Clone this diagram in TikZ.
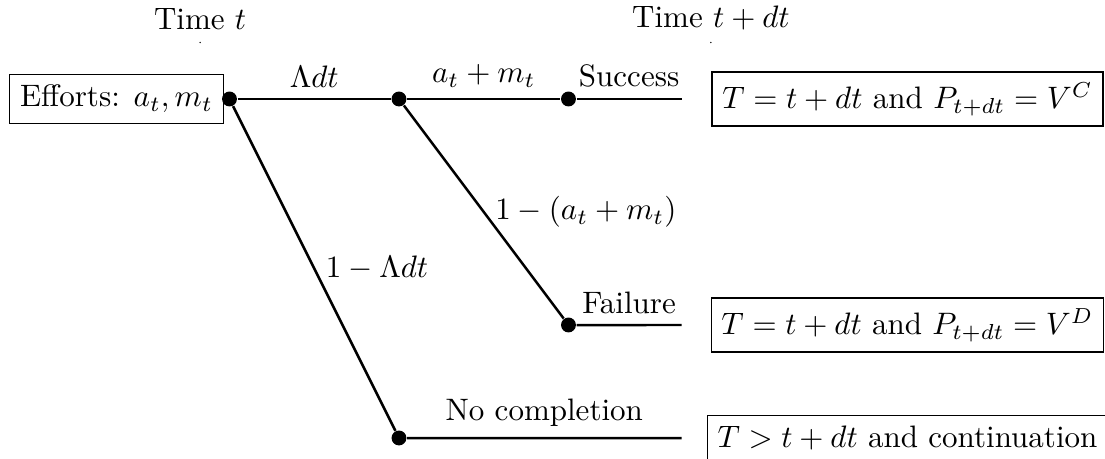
\documentclass[tikz,border=0pt]{standalone}
\usepackage{amsmath}
\usepackage{tikz}
\usetikzlibrary{positioning, calc}
\tikzset{
	branch/.style ={thick},
	dot/.style    ={circle, fill=black, inner sep=0pt, minimum size=4.8pt},
	outcome/.style={rectangle, draw=black, align=center},
	tick/.style   ={circle, fill=black, inner sep=0pt, minimum size=0.5pt},
}

\begin{document}
\begin{tikzpicture}[scale=1.28]
	\useasboundingbox (-2.031,-3.186) rectangle (7.748,0.876);
	% time stamps
	\node[tick] (t0) at (-0.26,0.5) {};
	\node[tick] (t1) at (4.26,0.5) {};
	\node[above=0pt of t0] (lbl0) {Time $t$};
	\node[above=0pt of t1] (lbl1) {Time $t+dt$};
	% tree
	\node[outcome] (effort) at (-1,0) {Efforts: $a_t, m_t$};
	\node[dot] (root) at (0,0) {};
	\node[dot] (mid) at (1.5,0) {};
	\node[dot] (succ) at (3,0) {};
	\node[dot] (fail) at (3,-2) {};
	\node[dot] (nocomp) at (1.5,-3) {};
	\coordinate (succEnd) at (4,0);
	\coordinate (failEnd) at (4,-2);
	\coordinate (nocompEnd) at (4,-3);
	\draw[branch] (root) -- node[above] {$\Lambda dt$} (mid);
	\draw[branch] (mid) -- node[above] {$a_t + m_t$} (succ);
	\draw[branch] (succ) -- node[above] {Success} (succEnd);
	\draw[branch] (mid) -- node[right] {$1-(a_t+m_t)$} (fail);
	\draw[branch] (fail) -- node[above] {Failure} (failEnd);
	\draw[branch] (root) -- node[right] {$1-\Lambda dt$} (nocomp);
	\draw[branch] (nocomp) -- node[above] {No completion} (nocompEnd);
	% outcomes
	\node[outcome] (boxC) at (6,0) {$T = t + dt$ and $P_{t+dt} = V^C$};
	\node[outcome] (boxD) at (6,-2) {$T = t + dt$ and $P_{t+dt} = V^D$};
	\node[outcome] (boxN) at (6,-3) {$T > t + dt$ and continuation};
\end{tikzpicture}
\end{document}
